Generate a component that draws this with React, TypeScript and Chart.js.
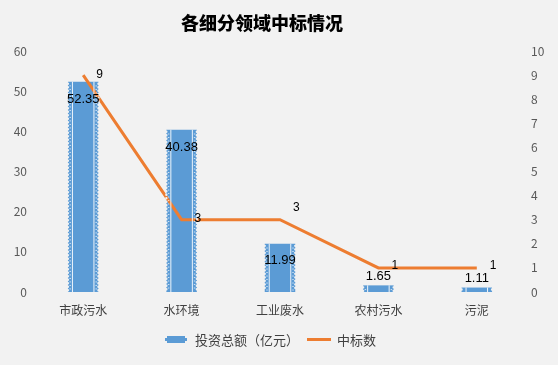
import React, { useEffect, useRef } from "react";
import { Chart, registerables } from "chart.js";

Chart.register(...registerables);

const categories = ["市政污水", "水环境", "工业废水", "农村污水", "污泥"];
const investment = [52.35, 40.38, 11.99, 1.65, 1.11];
const bidCounts = [9, 3, 3, 1, 1];
const leftTicks = [0, 10, 20, 30, 40, 50, 60];
const rightTicks = [0, 1, 2, 3, 4, 5, 6, 7, 8, 9, 10];

const titleText = "各细分领域中标情况";
const barLabel = "投资总额（亿元）";
const lineLabel = "中标数";

const BLUE = "#5b9bd5";
const ORANGE = "#ed7d31";
const BG = "#f2f2f2";
const FONT = '"Noto Sans CJK SC", "Liberation Sans", sans-serif';

const decorPlugin = {
  id: "decor",
  afterDatasetsDraw(chart: any) {
    const ctx = chart.ctx;
    const barMeta = chart.getDatasetMeta(0);
    ctx.save();
    barMeta.data.forEach((el: any, i: number) => {
      const { x, y, base, width } = el.getProps(["x", "y", "base", "width"], true);
      const l = x - width / 2;
      const r = x + width / 2;
      const h = base - y;
      ctx.strokeStyle = "rgba(255,255,255,0.9)";
      ctx.lineWidth = 1;
      ctx.beginPath();
      ctx.moveTo(l + 4.5, y);
      ctx.lineTo(l + 4.5, base);
      ctx.moveTo(r - 4.5, y);
      ctx.lineTo(r - 4.5, base);
      ctx.stroke();
      ctx.fillStyle = BG;
      for (let yy = y + 2; yy < base - 1; yy += 3.5) {
        ctx.beginPath();
        ctx.arc(l, yy, 1.2, 0, Math.PI * 2);
        ctx.arc(r, yy, 1.2, 0, Math.PI * 2);
        ctx.fill();
      }
      ctx.fillStyle = "rgba(255,255,255,0.7)";
      for (let yy = y + 3.7; yy < base - 1; yy += 3.5) {
        ctx.fillRect(l + 1.5, yy, 1.5, 1);
        ctx.fillRect(r - 3, yy, 1.5, 1);
      }
      ctx.fillStyle = "#000";
      ctx.font = '13px "Liberation Sans", Arial, sans-serif';
      ctx.textAlign = "center";
      ctx.textBaseline = "middle";
      const v = investment[i];
      const ly = h > 20 ? y + Math.min(18, 13 + h / 12) : y - 9;
      ctx.fillText(v.toFixed(2), x, ly);
    });
    const lineMeta = chart.getDatasetMeta(1);
    ctx.fillStyle = "#000";
    ctx.font = '12px "Liberation Sans", Arial, sans-serif';
    ctx.textAlign = "left";
    ctx.textBaseline = "middle";
    const lift = [0, -1, -12, -2, -2];
    lineMeta.data.forEach((pt: any, i: number) => {
      const { x, y } = pt.getProps(["x", "y"], true);
      ctx.fillText(String(bidCounts[i]), x + 13, y + (lift[i] ?? 0));
    });
    ctx.restore();
  },
};

export default function App() {
  const ref = useRef<HTMLCanvasElement | null>(null);

  useEffect(() => {
    document.body.style.margin = "0";
    document.body.style.background = BG;
    const canvas = ref.current;
    if (!canvas) return;
    const chart = new Chart(canvas, {
      type: "bar",
      data: {
        labels: categories,
        datasets: [
          {
            type: "bar",
            label: barLabel,
            data: investment,
            backgroundColor: BLUE,
            borderWidth: 0,
            barPercentage: 0.31,
            categoryPercentage: 1,
            yAxisID: "y",
            order: 2,
          },
          {
            type: "line",
            label: lineLabel,
            data: bidCounts,
            borderColor: ORANGE,
            backgroundColor: ORANGE,
            borderWidth: 3,
            pointRadius: 0,
            tension: 0,
            yAxisID: "y1",
            order: 1,
          },
        ],
      } as any,
      options: {
        animation: false,
        responsive: false,
        maintainAspectRatio: false,
        layout: { padding: { top: 51, left: 0, right: 0, bottom: 0 } },
        plugins: {
          legend: { display: false },
          title: { display: false },
          tooltip: { enabled: false },
        },
        scales: {
          x: {
            grid: { display: false, drawTicks: false },
            border: { display: false },
            ticks: {
              padding: 11,
              color: "#404040",
              font: { family: FONT, size: 12 },
            },
            afterFit: (s: any) => {
              s.height = 73;
            },
          },
          y: {
            position: "left",
            min: 0,
            max: 60,
            afterBuildTicks: (s: any) => {
              s.ticks = leftTicks.map((v) => ({ value: v }));
            },
            grid: { display: false, drawTicks: false },
            border: { display: false },
            ticks: {
              padding: 7,
              color: "#595959",
              font: { family: FONT, size: 12 },
            },
            afterFit: (s: any) => {
              s.width = 34;
            },
          },
          y1: {
            position: "right",
            min: 0,
            max: 10,
            afterBuildTicks: (s: any) => {
              s.ticks = rightTicks.map((v) => ({ value: v }));
            },
            grid: { display: false, drawTicks: false },
            border: { display: false },
            ticks: {
              padding: 5,
              color: "#595959",
              font: { family: FONT, size: 12 },
            },
            afterFit: (s: any) => {
              s.width = 32;
            },
          },
        },
      } as any,
      plugins: [decorPlugin],
    });
    return () => chart.destroy();
  }, []);

  return (
    <div
      style={{
        position: "fixed",
        left: 0,
        top: 0,
        width: 558,
        height: 365,
        background: BG,
        overflow: "hidden",
      }}
    >
      <canvas ref={ref} width={558} height={365} style={{ position: "absolute", left: 0, top: 0, width: 558, height: 365 }} />
      <div
        style={{
          position: "absolute",
          left: 162,
          top: 9,
          width: 200,
          textAlign: "center",
          fontFamily: FONT,
          fontWeight: 900,
          fontSize: 18,
          lineHeight: "26px",
          color: "#000",
        }}
      >
        {titleText}
      </div>
      <div
        style={{
          position: "absolute",
          left: 165,
          top: 329,
          height: 20,
          display: "flex",
          alignItems: "center",
          fontFamily: FONT,
          fontSize: 13,
          color: "#404040",
          whiteSpace: "nowrap",
        }}
      >
        <span
          style={{
            display: "inline-block",
            width: 18,
            height: 7,
            background: BLUE,
            borderLeft: "2px dotted #f2f2f2",
            borderRight: "2px dotted #f2f2f2",
            marginRight: 8,
          }}
        />
        <span style={{ marginRight: 8 }}>{barLabel}</span>
        <span
          style={{
            display: "inline-block",
            width: 24,
            height: 3,
            background: ORANGE,
            marginRight: 6,
          }}
        />
        <span>{lineLabel}</span>
      </div>
    </div>
  );
}
